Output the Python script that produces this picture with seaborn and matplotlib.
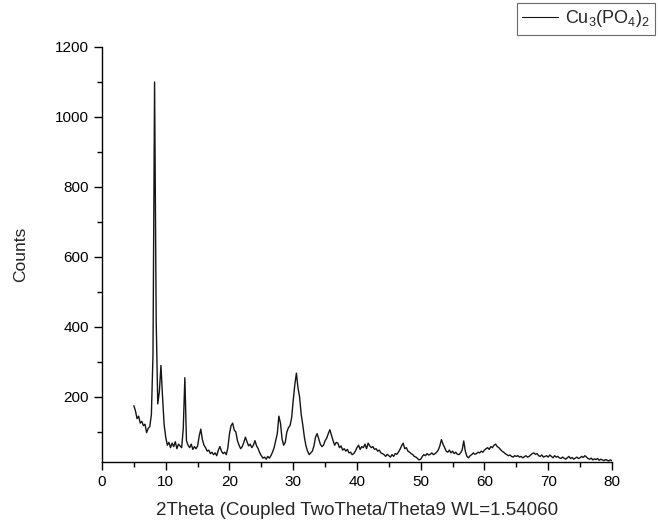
import numpy as np
import pandas as pd
import matplotlib
matplotlib.use("Agg")
import matplotlib.pyplot as plt
from matplotlib.ticker import MultipleLocator
from matplotlib.lines import Line2D
import seaborn as sns

# 2Theta grid (0.25 deg steps from 5 to 80)
two_theta = np.linspace(5, 80, 301)

counts = [
    # 5.00 - 9.75
    175, 160, 138, 145, 125, 130, 118, 122, 98, 110, 115, 150, 320, 1100, 420, 180, 215, 290, 200, 120,
    # 10.00 - 14.75
    85, 62, 70, 55, 68, 58, 72, 52, 65, 60, 55, 110, 255, 75, 62, 55, 65, 50, 58, 52,
    # 15.00 - 19.75
    60, 88, 108, 78, 62, 55, 45, 48, 38, 42, 35, 40, 32, 48, 58, 45, 38, 42, 35, 55,
    # 20.00 - 24.75
    95, 118, 125, 105, 100, 75, 62, 52, 58, 70, 85, 72, 60, 65, 55, 62, 75, 60, 52, 40,
    # 25.00 - 29.75
    32, 25, 28, 22, 30, 25, 32, 42, 55, 75, 95, 145, 125, 80, 62, 70, 100, 112, 118, 140,
    # 30.00 - 34.75
    190, 235, 268, 225, 200, 150, 120, 85, 60, 45, 35, 40, 45, 60, 85, 95, 80, 65, 58, 62,
    # 35.00 - 39.75
    75, 82, 95, 106, 90, 75, 62, 70, 68, 55, 60, 48, 52, 45, 50, 40, 42, 35, 38, 45,
    # 40.00 - 44.75
    55, 62, 50, 58, 55, 65, 52, 68, 60, 55, 58, 50, 52, 45, 48, 40, 38, 35, 30, 36,
    # 45.00 - 49.75
    32, 28, 35, 30, 38, 36, 42, 50, 60, 68, 52, 55, 45, 42, 38, 35, 30, 28, 24, 20,
    # 50.00 - 54.75
    22, 30, 35, 32, 38, 34, 36, 40, 35, 38, 42, 48, 60, 78, 65, 55, 45, 42, 48, 40,
    # 55.00 - 59.75
    45, 38, 42, 36, 35, 40, 48, 74, 45, 30, 26, 32, 35, 40, 36, 38, 42, 40, 45, 42,
    # 60.00 - 64.75
    48, 52, 55, 50, 58, 55, 62, 65, 58, 55, 50, 45, 42, 38, 35, 32, 34, 30, 28, 32,
    # 65.00 - 69.75
    30, 32, 28, 30, 26, 29, 32, 28, 30, 34, 38, 40, 36, 38, 32, 30, 34, 28, 30, 32,
    # 70.00 - 74.75
    28, 34, 30, 26, 32, 28, 30, 26, 24, 28, 25, 22, 26, 30, 24, 27, 22, 25, 28, 24,
    # 75.00 - 80.00
    26, 30, 27, 32, 28, 24, 22, 25, 20, 23, 21, 24, 19, 22, 20, 18, 21, 19, 17, 20, 18,
]

series_label = r"Cu$_3$(PO$_4$)$_2$"
x_title = "2Theta (Coupled TwoTheta/Theta9 WL=1.54060"
y_title = "Counts"

df = pd.DataFrame({"2Theta": two_theta, "Counts": counts, "sample": series_label})

sns.set_style("ticks")
plt.rcParams["font.family"] = ["Liberation Sans", "DejaVu Sans"]
plt.rcParams["mathtext.fontset"] = "custom"
plt.rcParams["mathtext.rm"] = "Liberation Sans"
plt.rcParams["mathtext.it"] = "Liberation Sans"

fig = plt.figure(figsize=(6.58, 5.25), dpi=100)
ax = fig.add_axes([0.155, 0.12, 0.775, 0.7905])

sns.lineplot(data=df, x="2Theta", y="Counts", hue="sample",
             palette=["#151515"], linewidth=1.0, ax=ax, legend=False,
             estimator=None, sort=False)

ax.set_xlim(0, 80)
ax.set_ylim(14, 1200)
ax.xaxis.set_major_locator(MultipleLocator(10))
ax.xaxis.set_minor_locator(MultipleLocator(5))
ax.yaxis.set_minor_locator(MultipleLocator(100))
ax.set_yticks([200, 400, 600, 800, 1000, 1200])

ax.tick_params(which="major", direction="out", length=6, width=1, labelsize=11, colors="black")
ax.tick_params(which="minor", direction="out", length=3.5, width=1, colors="black")
for s in ["top", "right"]:
    ax.spines[s].set_visible(False)
for s in ["left", "bottom"]:
    ax.spines[s].set_linewidth(1.0)
    ax.spines[s].set_color("black")

ax.set_xlabel(x_title, fontsize=13.5, labelpad=9)
ax.set_ylabel(y_title, fontsize=12.5, labelpad=19)

handle = Line2D([], [], color="#151515", linewidth=0.8)
leg = fig.legend([handle], [series_label], loc="upper right",
                 bbox_to_anchor=(655 / 658, 1 - 3 / 525), fontsize=13,
                 frameon=True, fancybox=False, edgecolor="#444444",
                 borderpad=0.3, handlelength=2.0, handletextpad=0.35,
                 borderaxespad=0)
leg.get_frame().set_linewidth(0.8)

fig.savefig("out.png", dpi=100)
